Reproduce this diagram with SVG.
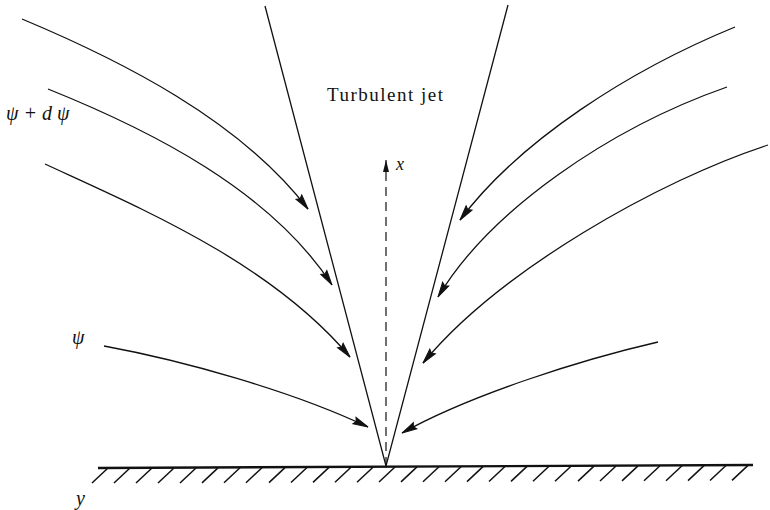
<svg xmlns="http://www.w3.org/2000/svg" width="770" height="510" viewBox="0 0 770 510">
<style>
.ln{fill:none;stroke:#111;stroke-width:1.3}
.sl{fill:none;stroke:#111;stroke-width:1.3;marker-end:url(#ah)}
text{font-family:'Liberation Serif','Times New Roman','DejaVu Serif',serif;fill:#111}
.it{font-style:italic}
</style>
<defs>
<marker id="ah" markerUnits="userSpaceOnUse" viewBox="-16 -5 17 10" refX="0" refY="0" markerWidth="17" markerHeight="10" orient="auto">
<path d="M0,0 L-15,-3.6 L-13,0 L-15,3.6 Z" fill="#111" stroke="#111" stroke-width="1"/>
</marker>
<marker id="ax" markerUnits="userSpaceOnUse" viewBox="-13 -4 14 8" refX="0" refY="0" markerWidth="14" markerHeight="8" orient="auto">
<path d="M0,0 L-12,-3 L-12,3 Z" fill="#111"/>
</marker>
</defs>
<rect width="770" height="510" fill="#fff"/>
<g id="wall">
<path d="M98,468 L753,465" stroke="#111" stroke-width="2.4" fill="none"/>
<path stroke="#111" stroke-width="1.5" fill="none" d="M92,483 L108,468 M114,483 L130,468 M136,483 L152,468 M158,483 L174,468 M180,483 L196,468 M202,482.9 L218,467.9 M224,482.8 L240,467.8 M246,482.7 L262,467.7 M269,482.6 L285,467.6 M291,482.5 L307,467.5 M313,482.4 L329,467.4 M335,482.3 L351,467.3 M357,482.2 L373,467.2 M379,482 L395,467 M401,481.9 L417,466.9 M423,481.8 L439,466.8 M445,481.7 L461,466.7 M467,481.6 L483,466.6 M489,481.5 L505,466.5 M511,481.4 L527,466.4 M533,481.3 L549,466.3 M555,481.2 L571,466.2 M578,481.1 L594,466.1 M600,481 L616,466 M622,480.9 L638,465.9 M644,480.8 L660,465.8 M666,480.7 L682,465.7 M688,480.6 L704,465.6 M710,480.5 L726,465.5 M732,480.4 L748,465.4"/>
</g>
<g id="jet">
<path class="ln" d="M265,6 L386,466 L508,5"/>
<text x="327" y="101" font-size="19" font-family="'Liberation Serif', serif" textLength="116" lengthAdjust="spacing">Turbulent jet</text>
</g>
<g id="axis-x">
<path d="M386,466 L386,160" stroke="#111" stroke-width="1.2" stroke-dasharray="9,6" fill="none" marker-end="url(#ax)"/>
<text class="it" x="396" y="170" font-size="18" font-family="'Liberation Serif', serif">x</text>
</g>
<g id="labels">
<text class="it" x="6" y="120" font-size="20" font-family="'Liberation Serif', serif">ψ + d ψ</text>
<text class="it" x="72" y="344" font-size="20" font-family="'Liberation Serif', serif">ψ</text>
<text class="it" x="76" y="505" font-size="20" font-family="'Liberation Serif', serif">y</text>
</g>
<g id="connectors">
<path class="sl" d="M22,19 C120,60 240,120 308,209"/>
<path class="sl" d="M48,89 C150,130 270,190 332,285"/>
<path class="sl" d="M45,164 C140,208 270,262 350,357"/>
<path class="sl" d="M104,346 C180,360 290,390 368,427"/>
<path class="sl" d="M735,27 C630,70 520,140 460,220"/>
<path class="sl" d="M727,87 C610,128 490,210 438,297"/>
<path class="sl" d="M768,145 C660,180 500,270 423,363"/>
<path class="sl" d="M658,342 C580,360 470,395 402,433"/>
</g>
</svg>
